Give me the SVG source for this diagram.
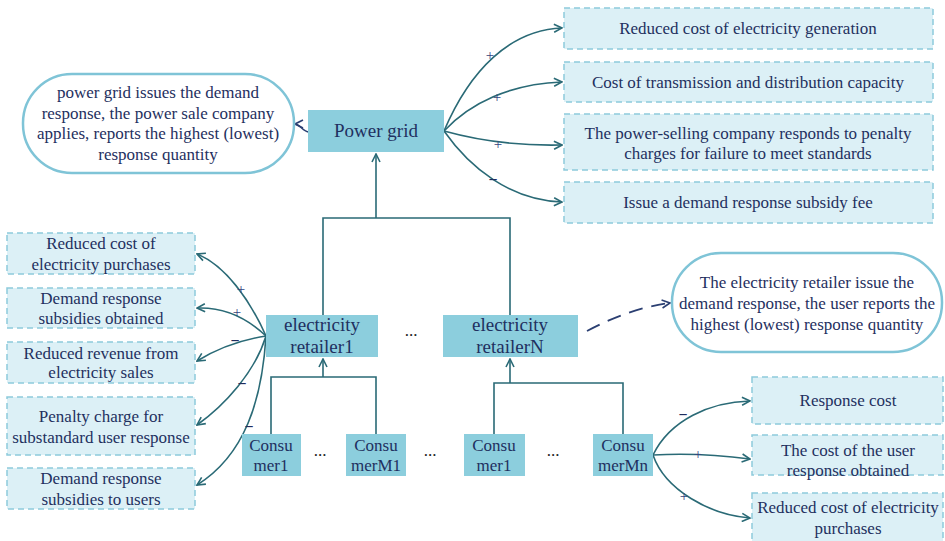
<svg xmlns="http://www.w3.org/2000/svg" width="945" height="541" viewBox="0 0 945 541">
<defs>
<marker id="arr" viewBox="0 0 10 10" refX="9" refY="5" markerWidth="10" markerHeight="10" markerUnits="userSpaceOnUse" orient="auto">
<path d="M1,1 L9,5 L1,9" fill="none" stroke="#2a6a76" stroke-width="1.6"/>
</marker>
<marker id="arrN" viewBox="0 0 10 10" refX="9" refY="5" markerWidth="10" markerHeight="10" markerUnits="userSpaceOnUse" orient="auto">
<path d="M1,1 L9,5 L1,9" fill="none" stroke="#2b3f72" stroke-width="1.6"/>
</marker>
</defs>
<style>
text{font-family:"Liberation Serif","Times New Roman",serif;fill:#1f3060;text-anchor:middle}
.t{font-size:17px}
.big{font-size:19px}
.node{fill:#8ccedd}
.lb{fill:#dcf0f6;stroke:#8dcadb;stroke-width:1.5;stroke-dasharray:6,4}
.rb{fill:#ffffff;stroke:#7fc4d7;stroke-width:2.5}
.c{fill:none;stroke:#2a6a76;stroke-width:1.6}
.s{font-size:15px;fill:#34447e}
.m{font-size:16px;fill:#1f2e5e;font-weight:bold}
.d{font-size:17px;fill:#222}
</style>
<rect width="945" height="541" fill="#ffffff"/>

<g id="connectors">
<path class="c" d="M376,218 L376,154" marker-end="url(#arr)"/>
<path class="c" d="M323,315 L323,218 L510,218 L510,315"/>
<path class="c" d="M323,377 L323,359" marker-end="url(#arr)"/>
<path class="c" d="M271,434 L271,377 L376,377 L376,434"/>
<path class="c" d="M510,383 L510,359" marker-end="url(#arr)"/>
<path class="c" d="M494,434 L494,383 L623,383 L623,434"/>
<path class="c" d="M444,131 C470,70 510,30 562,28" marker-end="url(#arr)"/>
<path class="c" d="M444,131 C470,103 510,84 562,82" marker-end="url(#arr)"/>
<path class="c" d="M444,131 C480,141 520,146 562,145" marker-end="url(#arr)"/>
<path class="c" d="M444,131 C470,168 510,200 562,202" marker-end="url(#arr)"/>
<path d="M309,132 C303,132 300,124 295,124" fill="none" stroke="#2b3f72" stroke-width="1.6" marker-end="url(#arrN)"/>
<path class="c" d="M266,336 C250,300 225,265 197,254" marker-end="url(#arr)"/>
<path class="c" d="M266,336 C245,316 222,307 197,308" marker-end="url(#arr)"/>
<path class="c" d="M266,336 C240,340 215,350 197,361" marker-end="url(#arr)"/>
<path class="c" d="M266,336 C255,372 225,405 197,425" marker-end="url(#arr)"/>
<path class="c" d="M266,336 C262,400 245,455 197,485" marker-end="url(#arr)"/>
<path d="M587,331 Q630,308 670,303" fill="none" stroke="#2b3f72" stroke-width="1.8" stroke-dasharray="14,9" marker-end="url(#arrN)"/>
<path class="c" d="M653,455 C670,420 710,402 750,401" marker-end="url(#arr)"/>
<path class="c" d="M653,455 C690,453 720,455 750,459" marker-end="url(#arr)"/>
<path class="c" d="M653,455 C665,490 710,515 750,518" marker-end="url(#arr)"/>
<text class="s" x="490" y="60">+</text>
<text class="s" x="497" y="102">+</text>
<text class="s" x="498" y="149">+</text>
<text class="m" x="493" y="185">−</text>
<text class="s" x="241" y="294">+</text>
<text class="s" x="237" y="317">+</text>
<text class="m" x="235" y="346">−</text>
<text class="m" x="242" y="389">−</text>
<text class="m" x="249" y="432">−</text>
<text class="m" x="683" y="420">−</text>
<text class="s" x="698" y="459">+</text>
<text class="s" x="684" y="501">+</text>
</g>

<g id="power-grid">
<rect class="node" x="308" y="110" width="136" height="42"/>
<text class="big" x="376" y="137">Power grid</text>
</g>

<g id="grid-note">
<rect class="rb" x="23" y="74" width="271" height="99" rx="49" ry="49"/>
<text class="t" x="158" y="98">power grid issues the demand</text>
<text class="t" x="158" y="119">response, the power sale company</text>
<text class="t" x="158" y="139">applies, reports the highest (lowest)</text>
<text class="t" x="158" y="160">response quantity</text>
</g>

<g id="pg-effect-1">
<rect class="lb" x="564" y="8" width="369" height="41"/>
<text class="t" x="748" y="34">Reduced cost of electricity generation</text>
</g>
<g id="pg-effect-2">
<rect class="lb" x="564" y="62" width="369" height="40"/>
<text class="t" x="748" y="88">Cost of transmission and distribution capacity</text>
</g>
<g id="pg-effect-3">
<rect class="lb" x="564" y="114" width="369" height="56"/>
<text class="t" x="748" y="139">The power-selling company responds to penalty</text>
<text class="t" x="748" y="159">charges for failure to meet standards</text>
</g>
<g id="pg-effect-4">
<rect class="lb" x="564" y="182" width="369" height="41"/>
<text class="t" x="748" y="208">Issue a demand response subsidy fee</text>
</g>

<g id="retailer-1">
<rect class="node" x="266" y="315" width="112" height="42"/>
<text class="big" x="322" y="331">electricity</text>
<text class="big" x="322" y="353">retailer1</text>
</g>
<text class="d" x="411" y="336">...</text>
<g id="retailer-n">
<rect class="node" x="443" y="315" width="135" height="42"/>
<text class="big" x="510" y="331">electricity</text>
<text class="big" x="510" y="353">retailerN</text>
</g>

<g id="retailer-note">
<rect class="rb" x="672" y="253" width="270" height="99" rx="49" ry="49"/>
<text class="t" x="807" y="288">The electricity retailer issue the</text>
<text class="t" x="807" y="309">demand response, the user reports the</text>
<text class="t" x="807" y="330">highest (lowest) response quantity</text>
</g>

<g id="r1-effect-1">
<rect class="lb" x="7" y="233" width="188" height="41"/>
<text class="t" x="101" y="249">Reduced cost of</text>
<text class="t" x="101" y="270">electricity purchases</text>
</g>
<g id="r1-effect-2">
<rect class="lb" x="7" y="288" width="188" height="40"/>
<text class="t" x="101" y="304">Demand response</text>
<text class="t" x="101" y="324">subsidies obtained</text>
</g>
<g id="r1-effect-3">
<rect class="lb" x="7" y="342" width="188" height="41"/>
<text class="t" x="101" y="359">Reduced revenue from</text>
<text class="t" x="101" y="378">electricity sales</text>
</g>
<g id="r1-effect-4">
<rect class="lb" x="7" y="397" width="188" height="58"/>
<text class="t" x="101" y="422">Penalty charge for</text>
<text class="t" x="101" y="443">substandard user response</text>
</g>
<g id="r1-effect-5">
<rect class="lb" x="7" y="468" width="188" height="41"/>
<text class="t" x="101" y="484">Demand response</text>
<text class="t" x="101" y="505">subsidies to users</text>
</g>

<g id="consumer-1a">
<rect class="node" x="242" y="434" width="59" height="42"/>
<text class="t" x="271" y="451">Consu</text>
<text class="t" x="271" y="471">mer1</text>
</g>
<text class="d" x="320" y="456">...</text>
<g id="consumer-m1">
<rect class="node" x="346" y="434" width="60" height="42"/>
<text class="t" x="376" y="451">Consu</text>
<text class="t" x="376" y="471">merM1</text>
</g>
<text class="d" x="430" y="456">...</text>
<g id="consumer-1b">
<rect class="node" x="464" y="434" width="61" height="42"/>
<text class="t" x="494" y="451">Consu</text>
<text class="t" x="494" y="471">mer1</text>
</g>
<text class="d" x="553" y="456">...</text>
<g id="consumer-mn">
<rect class="node" x="593" y="434" width="60" height="42"/>
<text class="t" x="623" y="451">Consu</text>
<text class="t" x="623" y="471">merMn</text>
</g>

<g id="cm-effect-1">
<rect class="lb" x="752" y="377" width="191" height="47"/>
<text class="t" x="848" y="406">Response cost</text>
</g>
<g id="cm-effect-2">
<rect class="lb" x="752" y="435" width="191" height="40"/>
<text class="t" x="848" y="456">The cost of the user</text>
<text class="t" x="848" y="476">response obtained</text>
</g>
<g id="cm-effect-3">
<rect class="lb" x="752" y="493" width="191" height="52"/>
<text class="t" x="848" y="513">Reduced cost of electricity</text>
<text class="t" x="848" y="534">purchases</text>
</g>
</svg>
